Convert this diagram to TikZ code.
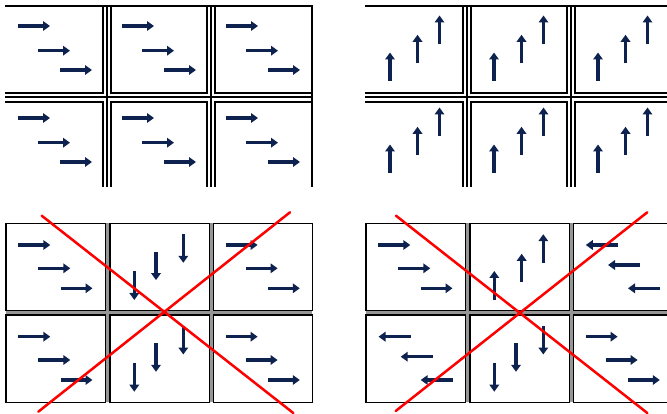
\documentclass[tikz,border=0pt]{standalone}
\usetikzlibrary{arrows.meta}

% Colours matching the original image
\definecolor{flowblue}{RGB}{14,34,80}
\definecolor{gapgray}{RGB}{150,150,150}

% Arrow sets of one cell, in cell coordinates (origin = top left corner)
\newcommand{\flowright}{%
  \draw[flow] (12.3,21.7) -- ++(32,0);
  \draw[flow] (32.3,45) -- ++(32,0);
  \draw[flow] (54.5,65) -- ++(32,0);}
\newcommand{\flowleft}{%
  \draw[flow] (44.5,21.7) -- ++(-32,0);
  \draw[flow] (66.7,41.7) -- ++(-32,0);
  \draw[flow] (86.7,65) -- ++(-32,0);}
\newcommand{\flowdown}{%
  \draw[flow] (24.3,47.7) -- ++(0,29);
  \draw[flow] (46,28.3) -- ++(0,28.5);
  \draw[flow] (73.3,11) -- ++(0,28.5);}
\newcommand{\flowup}{%
  \draw[flow] (24.3,76.7) -- ++(0,-29);
  \draw[flow] (51.7,59) -- ++(0,-28.5);
  \draw[flow] (73.3,39.4) -- ++(0,-28.5);}

\begin{document}
\begin{tikzpicture}[x=1pt, y=-1pt,
    flow/.style={draw=flowblue, line width=3.4pt, -{Triangle[length=7pt,width=9.5pt]}},
    wall/.style={black, line width=2pt, line cap=rect},
    frame/.style={black, line width=1.3pt},
    gap/.style={gapgray, line width=3.5pt},
    cross/.style={red, line width=2.5pt, line cap=round}]
  \useasboundingbox (0,0) rectangle (667,414);

  % ---------- top panels: cells with triple walls ----------
  \begin{scope}
    \clip (0,0) rectangle (667,190);
    \foreach \ox in {0,360} {
      \begin{scope}[shift={(\ox,0)}]
        % outer border, top and right
        \draw[wall] (6,6) -- (312,6) -- (312,186);
        % middle lines of the walls
        \draw[wall] (6,97.5) -- (312,97.5);
        \foreach \x in {106.7,211}
          \draw[wall] (\x,6) -- (\x,186);
        % cell borders on both sides of the walls
        \foreach \x in {102.7,110.7,207,215} {
          \draw[wall] (\x,6) -- (\x,93.3);
          \draw[wall] (\x,101.7) -- (\x,186);
        }
        \foreach \y in {93.3,101.7}
          \draw[wall] (6,\y) -- (102.7,\y) (110.7,\y) -- (207,\y) (215,\y) -- (312,\y);
      \end{scope}
    }
  \end{scope}

  % arrows, top left: all to the right
  \foreach \cx in {6,110,214}
    \foreach \cy in {6,98} {
      \begin{scope}[shift={(\cx,\cy)}]
        \draw[flow] (12,20) -- ++(32,0);
        \draw[flow] (32,44.7) -- ++(32,0);
        \draw[flow] (54,64) -- ++(32,0);
      \end{scope}
    }

  % arrows, top right: all upwards
  \foreach \cx in {366,470,574}
    \foreach \cy in {6,98} {
      \begin{scope}[shift={(\cx,\cy)}]
        \draw[flow] (24,75) -- ++(0,-28.5);
        \draw[flow] (51.5,57.3) -- ++(0,-28.5);
        \draw[flow] (73.5,38) -- ++(0,-28.5);
      \end{scope}
    }

  % ---------- bottom panels: framed cells ----------
  \begin{scope}
    \clip (0,200) rectangle (667,414);
    \foreach \ox in {0,360} {
      \begin{scope}[shift={(\ox,0)}]
        % gray gaps between the cells
        \draw[gap] (107.7,223.3) -- (107.7,402.3);
        \draw[gap] (211.2,223.3) -- (211.2,402.3);
        \draw[gap] (6,313) -- (312.3,313);
        % cell frames
        \foreach \cx in {6,110,213.3}
          \foreach \cy in {223.3,315}
            \draw[frame, fill=white] (\cx,\cy) rectangle ++(99.3,87.5);
      \end{scope}
    }
  \end{scope}

  % arrows, bottom left
  \begin{scope}[shift={(6,223.3)}]     \flowright \end{scope}
  \begin{scope}[shift={(110,223.3)}]   \flowdown  \end{scope}
  \begin{scope}[shift={(213.3,223.3)}] \flowright \end{scope}
  \begin{scope}[shift={(6,315)}]       \flowright \end{scope}
  \begin{scope}[shift={(110,315)}]     \flowdown  \end{scope}
  \begin{scope}[shift={(213.3,315)}]   \flowright \end{scope}

  % arrows, bottom right
  \begin{scope}[shift={(366,223.3)}]   \flowright \end{scope}
  \begin{scope}[shift={(470,223.3)}]   \flowup    \end{scope}
  \begin{scope}[shift={(573.3,223.3)}] \flowleft  \end{scope}
  \begin{scope}[shift={(366,315)}]     \flowleft  \end{scope}
  \begin{scope}[shift={(470,315)}]     \flowdown  \end{scope}
  \begin{scope}[shift={(573.3,315)}]   \flowright \end{scope}

  % red crosses
  \coordinate (L1) at (41.7,215.7);  \coordinate (L2) at (293.3,413);
  \coordinate (L3) at (290,212.3);   \coordinate (L4) at (38.3,411.7);
  \coordinate (R1) at (396,215.7);   \coordinate (R2) at (647.3,413);
  \coordinate (R3) at (647.3,212.3); \coordinate (R4) at (395.7,411);
  \draw[cross] (L1) -- (L2);
  \draw[cross] (L3) -- (L4);
  \draw[cross] (R1) -- (R2);
  \draw[cross] (R3) -- (R4);
\end{tikzpicture}
\end{document}
